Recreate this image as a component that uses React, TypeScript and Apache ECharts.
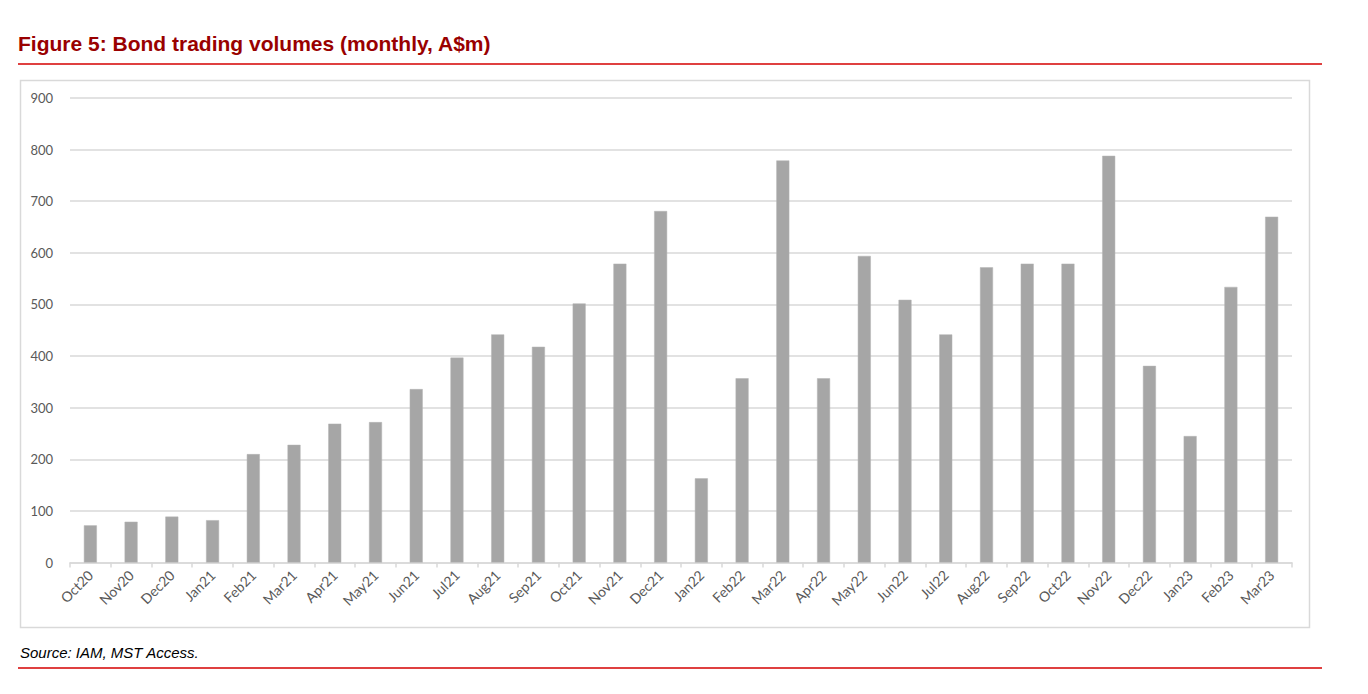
import React, { useEffect, useRef } from "react";
import * as echarts from "echarts";

const categories = [
  "Oct20", "Nov20", "Dec20", "Jan21", "Feb21", "Mar21", "Apr21", "May21", "Jun21", "Jul21",
  "Aug21", "Sep21", "Oct21", "Nov21", "Dec21", "Jan22", "Feb22", "Mar22", "Apr22", "May22",
  "Jun22", "Jul22", "Aug22", "Sep22", "Oct22", "Nov22", "Dec22", "Jan23", "Feb23", "Mar23",
];
const volumes = [
  72, 79, 89, 82, 210, 228, 269, 272, 336, 397,
  442, 418, 502, 579, 681, 163, 357, 779, 357, 594,
  509, 442, 572, 579, 579, 788, 381, 245, 534, 670,
];
const yTicks = { min: 0, max: 900, interval: 100 };
const titleText = "Figure 5: Bond trading volumes (monthly, A$m)";
const sourceText = "Source: IAM, MST Access.";

export default function App() {
  const ref = useRef<HTMLDivElement>(null);
  useEffect(() => {
    if (!ref.current) return;
    const chart = echarts.init(ref.current, undefined, { renderer: "svg" });
    chart.setOption({
      animation: false,
      backgroundColor: "#ffffff",
      grid: { left: 70, right: 76, top: 98, bottom: 131.5, containLabel: false },
      xAxis: {
        type: "category",
        data: categories,
        axisLine: { lineStyle: { color: "#d9d9d9", width: 1.5 } },
        axisTick: { show: true, length: 5, lineStyle: { color: "#d9d9d9", width: 1.5 } },
        axisLabel: {
          rotate: 45,
          interval: 0,
          margin: 10,
          color: "#595959",
          fontFamily: "Lato",
          fontSize: 14,
        },
      },
      yAxis: {
        type: "value",
        min: yTicks.min,
        max: yTicks.max,
        interval: yTicks.interval,
        axisLine: { show: false },
        axisTick: { show: false },
        axisLabel: { color: "#595959", fontFamily: "Lato", fontSize: 13, margin: 17 },
        splitLine: { lineStyle: { color: "#d9d9d9", width: 1.5 } },
      },
      series: [
        {
          type: "bar",
          data: volumes,
          barWidth: 13,
          itemStyle: { color: "#a6a6a6", borderColor: "#b4b4b4", borderWidth: 0.5 },
        },
      ],
      graphic: [
        {
          type: "text",
          left: 18,
          top: 33,
          style: {
            text: titleText,
            fill: "#990000",
            font: "bold 21px 'Liberation Sans', Arial, sans-serif",
          },
        },
        {
          type: "line",
          shape: { x1: 18, y1: 64, x2: 1322, y2: 64 },
          style: { stroke: "#d40000", lineWidth: 1.5 },
        },
        {
          type: "rect",
          shape: { x: 20.5, y: 80.5, width: 1289, height: 547 },
          style: { fill: "none", stroke: "#d9d9d9", lineWidth: 1.5 },
          silent: true,
        },
        {
          type: "text",
          left: 20,
          top: 645,
          style: {
            text: sourceText,
            fill: "#000000",
            font: "italic 15px 'Liberation Sans', Arial, sans-serif",
          },
        },
        {
          type: "line",
          shape: { x1: 18, y1: 668, x2: 1322, y2: 668 },
          style: { stroke: "#d40000", lineWidth: 1.5 },
        },
      ],
    });
    return () => chart.dispose();
  }, []);
  return (
    <div
      ref={ref}
      style={{ position: "absolute", left: 0, top: 0, width: 1368, height: 694 }}
    />
  );
}
